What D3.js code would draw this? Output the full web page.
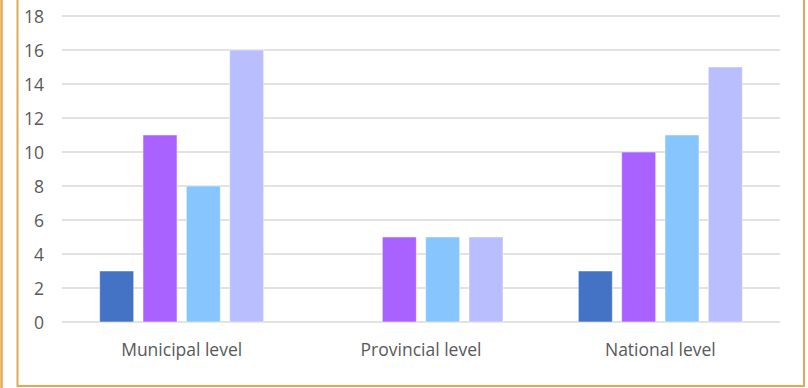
<!DOCTYPE html>
<html>
<head>
<meta charset="utf-8">
<script src="https://cdn.jsdelivr.net/npm/d3@7/dist/d3.min.js"></script>
<style>
  html, body { margin: 0; padding: 0; background: #fff; }
  svg { display: block; }
</style>
</head>
<body>
<svg id="chart" width="808" height="388"></svg>
<script>
const categories = ["Municipal level", "Provincial level", "National level"];
const seriesNames = ["Series 1", "Series 2", "Series 3", "Series 4"];
const seriesColors = ["#4472C4", "#A962FF", "#87C5FF", "#B9BEFF"];
const series1 = [3, 0, 3];
const series2 = [11, 5, 10];
const series3 = [8, 5, 11];
const series4 = [16, 5, 15];
const yTicks = [0, 2, 4, 6, 8, 10, 12, 14, 16, 18];

const seriesValues = [series1, series2, series3, series4];

const svg = d3.select("#chart");
const W = 808, H = 388;

const plot = { left: 62, right: 780, top: 16, bottom: 322 };

const x = d3.scaleBand().domain(categories).range([plot.left, plot.right]).padding(0);
const groupWidth = 164;
const xInner = d3.scaleBand().domain(d3.range(seriesNames.length))
  .range([0, groupWidth]).paddingInner(0.215).paddingOuter(0);
const y = d3.scaleLinear().domain([0, 18]).range([plot.bottom, plot.top]);

// Borders
svg.append("line").attr("x1", 1.5).attr("x2", 1.5).attr("y1", 0).attr("y2", H)
  .attr("stroke", "#E3A857").attr("stroke-width", 2.5);
svg.append("rect").attr("x", 17.5).attr("y", -10).attr("width", 786.5).attr("height", 396)
  .attr("fill", "none").attr("stroke", "#E3A857").attr("stroke-width", 2);

// Gridlines
svg.append("g").selectAll("line").data(yTicks).join("line")
  .attr("x1", plot.left).attr("x2", plot.right)
  .attr("y1", d => y(d)).attr("y2", d => y(d))
  .attr("stroke", "#D9D9D9").attr("stroke-width", 1.5);

// Y axis labels
const yAxis = d3.axisLeft(y).tickValues(yTicks).tickSize(0).tickPadding(0);
const yg = svg.append("g").attr("transform", "translate(44,0)").call(yAxis);
yg.select(".domain").remove();
yg.selectAll("text").attr("fill", "#595959").style("font-family", "'Open Sans', sans-serif")
  .style("font-size", "17.5px").attr("dy", "0.35em");

// Bars
const data = [];
categories.forEach((c, ci) => {
  seriesValues.forEach((s, si) => {
    data.push({ cat: c, si: si, v: s[ci] });
  });
});
svg.append("g").selectAll("rect").data(data.filter(d => d.v > 0)).join("rect")
  .attr("x", d => x(d.cat) + x.bandwidth() / 2 - groupWidth / 2 + xInner(d.si))
  .attr("width", xInner.bandwidth())
  .attr("y", d => y(d.v))
  .attr("height", d => y(0) - y(d.v))
  .attr("fill", d => seriesColors[d.si])
  .attr("stroke", "rgba(255,255,255,0.5)").attr("stroke-width", 1);

// X axis labels
const xAxis = d3.axisBottom(x).tickSize(0).tickPadding(0);
const xg = svg.append("g").attr("transform", "translate(0,350)").call(xAxis);
xg.select(".domain").remove();
xg.selectAll("text").attr("fill", "#595959").style("font-family", "'Open Sans', sans-serif")
  .style("font-size", "17.5px").attr("dy", "0.35em");
</script>
</body>
</html>
